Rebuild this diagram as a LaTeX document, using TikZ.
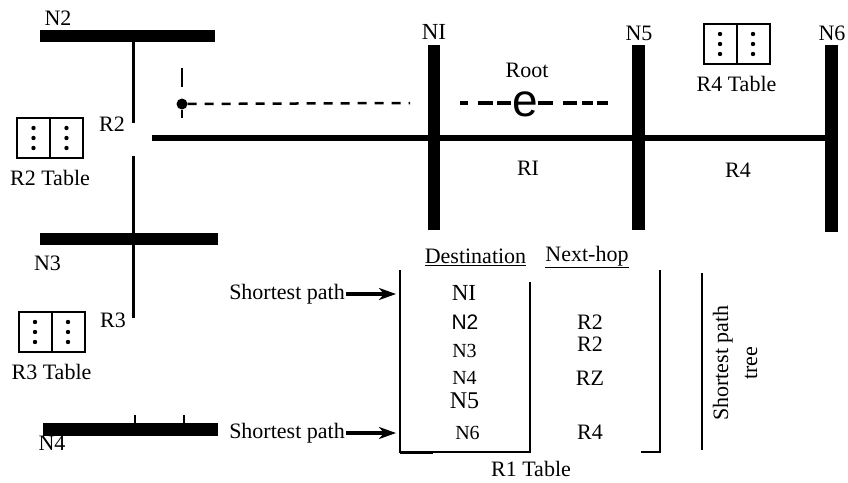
\documentclass[tikz,border=0pt]{standalone}
\usepackage{fontspec}
\setmainfont{Liberation Serif}
\newfontfamily\sansfont{Liberation Sans}
\usetikzlibrary{arrows.meta, positioning}

\begin{document}
\begin{tikzpicture}[x=1pt, y=-1pt,
    hbus/.style={fill=black, inner sep=0pt, minimum height=12.5pt},
    vbus/.style={fill=black, inner sep=0pt, minimum width=12.5pt},
    link/.style={line width=3pt},
    tline/.style={line width=1.6pt},
    lbl/.style={inner sep=0pt, font=\fontsize{22}{26}\selectfont},
    tbox/.style={draw, line width=2pt, minimum width=66pt, minimum height=40pt, inner sep=0pt},
    dashline/.style={line width=2.5pt, dash pattern=on 9pt off 8pt},
    rootdash/.style={line width=4.5pt},
    sparrow/.style={line width=3.2pt, -{Stealth[length=17pt, width=12pt, inset=5pt]}}]
  \useasboundingbox (0,0) rectangle (848,482);

  % Networks
  \node[hbus, minimum width=175pt] (N2bar) at (127.5,36) {};
  \node[hbus, minimum width=178pt] (N3bar) at (129,239) {};
  \node[hbus, minimum width=175pt] (N4bar) at (130.5,429.5) {};
  \node[vbus, minimum height=185pt] (N1bar) at (434,137.5) {};
  \node[vbus, minimum height=185pt] (N5bar) at (638.5,137.5) {};
  \node[vbus, minimum height=187pt] (N6bar) at (831.5,138.5) {};

  \node[lbl] (N2) at (58,18) {N2};
  \node[lbl] (N3) at (47.5,263) {N3};
  \node[lbl] (N4) at (52,443) {N4};
  \node[lbl, font=\fontsize{23}{26}\selectfont] (N1) at (434,32) {NI};
  \node[lbl] (N5) at (639,33) {N5};
  \node[lbl] (N6) at (832,33) {N6};

  % Routers
  \coordinate (R2top) at (133,123);
  \coordinate (R2low) at (133,156);
  \coordinate (R3end) at (133,318);
  \coordinate (R1start) at (152,138);
  \draw[link] (N2bar.south -| R2top) -- (R2top);
  \draw[link] (R2low) -- (R3end);
  \draw[line width=5.5pt] (R1start) -- (R1start -| N6bar.east);
  \draw[line width=1.3pt] (N4bar.north -| 135,0) -- ++(0,-8);
  \draw[line width=1.3pt] (N4bar.north -| 184,0) -- ++(0,-8);

  \node[lbl] (R2) at (112,124) {R2};
  \node[lbl] (R3) at (113,320) {R3};
  \node[lbl] (R1) at (528,168) {RI};
  \node[lbl] (R4) at (738,170) {R4};

  % Router tables
  \foreach \nm/\px/\py in {R2/50/138, R3/51.5/332, R4/736.5/44} {
    \node[tbox] (tab\nm) at (\px,\py) {};
    \draw[line width=2pt] (tab\nm.north) -- (tab\nm.south);
    \foreach \dx in {-16.5,16.5}
      \foreach \dy in {-10,0,10}
        \fill ([shift={(\dx,\dy)}]tab\nm.center) circle (2.2pt);
    \node[lbl, below=11pt of tab\nm] {\nm\ Table};
  }

  % Root of the tree
  \node[circle, fill=black, inner sep=0pt, minimum size=11pt] (src) at (182,104) {};
  \coordinate (srcend) at (410,103);
  \coordinate (srctop) at (182,68);
  \draw[dashline] (src) -- (srcend);
  \draw[line width=2pt] (srctop) -- ++(0,19);
  \draw[line width=2pt] (src.south) -- ++(0,8);
  \node[lbl] (root) at (527,70) {Root};
  \node[inner sep=0pt, font=\sansfont\fontsize{46}{46}\selectfont] (rootmark) at (525,104) {e};
  \foreach \a/\b in {460/468, 478/493, 497/511, 538/553, 563/577, 582/593, 597/608}
    \draw[rootdash] (\a,103) -- (\b,103);

  % R1 table
  \coordinate (tl) at (400,270);
  \coordinate (bl) at (400,452);
  \coordinate (bm) at (530,452);
  \coordinate (tm) at (530,282);
  \coordinate (tr) at (660,270);
  \coordinate (br) at (660,452);
  \draw[tline] (tl) -- (bl) -- (bm) -- (tm);
  \draw[tline] (tr) -- (br) -- ++(-19,0);
  \draw[line width=3pt] (bl) -- ++(33,0);
  \draw[tline] (702,273) -- (702,450);

  \node[lbl] (dest) at (475.5,257) {\underline{Destination}};
  \node[lbl] (nexthop) at (587,257) {\underline{Next-hop}};
  \node[lbl, font=\fontsize{23}{26}\selectfont] (dN1) at (464,293) {NI};
  \node[lbl, font=\sansfont\fontsize{21}{24}\selectfont] (dN2) at (465,322) {N2};
  \node[lbl, font=\fontsize{20}{24}\selectfont] (dN3) at (464.5,351) {N3};
  \node[lbl, font=\fontsize{20}{24}\selectfont] (dN4) at (464.5,378) {N4};
  \node[lbl, font=\fontsize{24}{26}\selectfont] (dN5) at (464.5,401) {N5};
  \node[lbl, font=\fontsize{20}{24}\selectfont] (dN6) at (467.5,433) {N6};
  \node[lbl] (hN2) at (590,322) {R2};
  \node[lbl] (hN3) at (590,344) {R2};
  \node[lbl] (hN4) at (590,378) {RZ};
  \node[lbl] (hN6) at (590,432) {R4};

  \node[lbl] (r1tab) at (531,469) {R1 Table};
  \node[lbl, rotate=90, align=center, font=\fontsize{22}{29}\selectfont] (sptree) at (735,363) {Shortest path\\tree};

  % Shortest path pointers
  \node[lbl] (sp1) at (287,294) {Shortest path};
  \node[lbl] (sp2) at (287,433) {Shortest path};
  \draw[sparrow, shorten >=4pt] ([xshift=1pt]sp1.east) -- (sp1.east -| tl);
  \draw[sparrow, shorten >=4pt] ([xshift=1pt]sp2.east) -- (sp2.east -| tl);
\end{tikzpicture}
\end{document}
